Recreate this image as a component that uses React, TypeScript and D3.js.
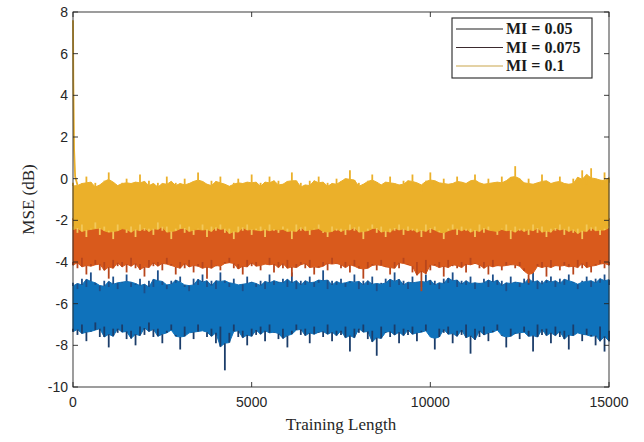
import React from 'react';
import * as d3 from 'd3';

// sample positions along the training run
const trainingX = d3.range(0, 15001, 125);

// MI = 0.1 (yellow) envelope
const yellowUpper = [
  -0.2,-0.5,-0.3,0.1,-0.4,-0.2,-0.6,-0.1,0.3,-0.3,
  -0.5,-0.2,0.0,-0.4,-0.3,0.2,-0.5,-0.1,-0.4,-0.2,
  -0.6,0.1,-0.3,-0.2,-0.5,0.0,-0.4,-0.3,0.3,-0.2,
  -0.5,-0.1,-0.4,0.1,-0.3,-0.6,-0.2,0.0,-0.4,-0.3,
  0.2,-0.5,-0.2,-0.4,0.1,-0.3,-0.1,-0.5,-0.2,0.3,
  -0.4,-0.2,-0.6,-0.1,-0.3,0.1,-0.4,-0.2,-0.5,0.0,
  -0.3,-0.1,0.4,-0.4,-0.2,-0.5,-0.1,0.2,-0.3,-0.4,
  -0.2,0.1,-0.5,-0.3,-0.1,-0.4,0.2,-0.2,-0.6,-0.1,
  0.3,-0.4,-0.2,0.0,-0.5,-0.3,0.1,-0.2,-0.4,-0.1,
  0.2,-0.3,-0.5,0.0,-0.2,-0.4,0.1,-0.3,-0.1,0.6,
  -0.2,-0.4,0.0,-0.3,-0.5,0.2,-0.1,-0.4,-0.2,0.1,
  -0.3,-0.5,0.0,-0.2,0.4,-0.3,0.5,-0.1,-0.4,0.3,
  -0.2
];
const yellowLower = [
  -2.3,-2.6,-2.2,-2.8,-2.4,-2.1,-2.7,-2.3,-2.5,-2.9,
  -2.2,-2.4,-2.6,-2.3,-2.8,-2.2,-2.5,-2.4,-2.7,-2.1,
  -2.5,-2.3,-2.9,-2.4,-2.2,-2.6,-2.3,-2.7,-2.4,-2.2,
  -2.8,-2.3,-2.5,-2.2,-2.6,-2.4,-2.9,-2.3,-2.5,-2.2,
  -2.7,-2.4,-2.3,-2.8,-2.2,-2.5,-2.6,-2.3,-2.4,-2.9,
  -2.2,-2.5,-2.3,-2.7,-2.4,-2.2,-2.6,-2.8,-2.3,-2.5,
  -2.4,-2.7,-2.2,-2.5,-2.3,-2.9,-2.4,-2.2,-2.6,-2.3,
  -2.8,-2.4,-2.5,-2.2,-2.7,-2.3,-2.5,-2.4,-2.8,-2.2,
  -2.6,-2.3,-2.5,-2.9,-2.4,-2.2,-2.7,-2.3,-2.5,-2.4,
  -2.8,-2.2,-2.6,-2.3,-2.5,-2.7,-2.4,-2.2,-2.9,-2.3,
  -2.5,-2.4,-2.7,-2.2,-2.6,-2.3,-2.8,-2.4,-2.5,-2.2,
  -2.7,-2.3,-2.6,-2.4,-2.9,-2.2,-2.5,-2.3,-2.7,-2.4,
  -2.3
];

// MI = 0.075 (orange) envelope
const orangeUpper = [
  -1.9,-2.1,-1.8,-2.0,-1.7,-2.2,-1.9,-2.0,-1.6,-2.1,
  -1.8,-2.0,-2.2,-1.9,-1.7,-2.1,-2.0,-1.8,-2.2,-1.9,
  -2.0,-1.7,-2.1,-1.9,-1.8,-2.2,-2.0,-1.6,-1.9,-2.1,
  -1.8,-2.0,-1.9,-2.2,-1.7,-2.0,-2.1,-1.8,-1.9,-2.0,
  -2.2,-1.8,-2.0,-1.9,-1.7,-2.1,-1.8,-2.0,-2.2,-1.9,
  -1.7,-2.0,-2.1,-1.8,-1.9,-2.2,-1.6,-2.0,-1.9,-2.1,
  -1.8,-2.0,-1.9,-2.2,-1.7,-2.1,-1.9,-1.8,-2.0,-2.1,
  -1.9,-1.7,-2.2,-2.0,-1.8,-1.9,-2.1,-1.7,-2.0,-1.9,
  -2.2,-1.8,-2.0,-1.9,-2.1,-1.7,-1.9,-2.2,-1.8,-2.0,
  -1.9,-2.1,-1.6,-2.0,-1.8,-2.2,-1.9,-2.0,-1.7,-2.1,
  -1.9,-1.8,-2.0,-2.2,-1.7,-1.9,-2.1,-1.8,-2.0,-1.9,
  -2.2,-1.7,-2.0,-1.9,-2.1,-1.8,-2.0,-1.6,-1.9,-2.1,
  -1.9
];
const orangeLower = [
  -4.0,-4.3,-3.8,-4.6,-4.1,-3.9,-4.4,-4.0,-4.8,-3.9,
  -4.2,-4.0,-4.5,-3.8,-4.3,-4.1,-4.7,-3.9,-4.2,-4.0,
  -4.4,-3.8,-4.1,-4.6,-4.0,-4.3,-3.9,-4.5,-4.1,-4.0,
  -4.8,-3.9,-4.2,-4.4,-4.0,-3.8,-4.3,-4.1,-4.6,-3.9,
  -4.2,-4.0,-4.4,-4.1,-3.8,-4.5,-4.0,-4.3,-3.9,-4.7,
  -4.1,-4.0,-4.3,-3.9,-4.6,-4.2,-4.0,-4.4,-3.8,-4.1,
  -4.3,-4.0,-4.5,-3.9,-4.2,-4.8,-4.0,-4.1,-4.4,-3.9,
  -4.2,-4.6,-4.0,-4.3,-3.8,-4.1,-4.5,-4.0,-5.4,-3.9,
  -4.4,-4.1,-4.0,-4.7,-3.9,-4.2,-4.3,-4.0,-4.5,-3.8,
  -4.1,-4.3,-4.0,-4.6,-3.9,-4.2,-4.4,-4.0,-4.1,-4.3,
  -4.0,-4.3,-5.0,-4.5,-4.1,-4.0,-4.7,-3.9,-4.2,-4.4,
  -4.0,-4.1,-4.6,-3.9,-4.3,-4.0,-4.5,-4.1,-3.9,-4.3,
  -4.0
];

// MI = 0.05 (blue) envelope
const blueUpper = [
  -5.0,-5.3,-4.8,-5.2,-4.5,-5.1,-5.4,-4.9,-5.2,-4.7,
  -5.3,-5.0,-4.6,-5.2,-5.1,-4.8,-5.5,-4.9,-5.2,-4.4,
  -5.1,-5.3,-4.9,-5.0,-4.7,-5.2,-5.4,-4.8,-5.1,-4.6,
  -5.2,-4.9,-5.3,-4.5,-5.0,-5.2,-4.8,-5.1,-5.4,-4.7,
  -5.0,-5.2,-4.9,-5.3,-4.6,-5.1,-5.0,-4.8,-5.2,-4.5,
  -5.3,-4.9,-5.1,-4.7,-5.2,-5.0,-4.4,-5.3,-4.9,-5.1,
  -4.8,-5.2,-5.0,-4.6,-5.3,-4.9,-5.1,-4.7,-5.4,-5.0,
  -4.8,-5.2,-4.5,-5.1,-4.9,-5.3,-4.7,-5.0,-5.2,-4.6,
  -5.1,-4.9,-5.3,-4.8,-5.0,-4.5,-5.2,-4.9,-5.1,-4.7,
  -5.3,-5.0,-4.8,-5.2,-4.6,-5.1,-4.9,-5.4,-4.7,-5.0,
  -5.2,-4.8,-5.1,-4.5,-5.3,-4.9,-5.0,-4.7,-5.2,-4.8,
  -5.1,-4.6,-5.0,-5.3,-4.9,-4.7,-5.2,-4.8,-5.0,-4.6,
  -5.1
];
const blueLower = [
  -7.2,-7.5,-7.0,-7.8,-7.3,-6.9,-7.6,-7.1,-8.1,-7.2,
  -7.4,-7.0,-7.7,-7.3,-8.0,-7.1,-7.5,-6.9,-7.6,-7.2,
  -7.9,-7.3,-7.0,-7.5,-8.2,-7.1,-7.4,-7.7,-7.0,-7.3,
  -7.6,-7.2,-7.9,-7.1,-9.2,-7.4,-7.0,-7.6,-7.3,-8.0,
  -7.2,-7.5,-7.1,-7.8,-7.0,-7.4,-7.7,-7.2,-8.1,-7.3,
  -7.0,-7.5,-7.2,-7.9,-7.1,-7.4,-7.6,-7.0,-7.8,-7.3,
  -7.5,-7.1,-8.3,-7.2,-7.4,-7.0,-7.7,-7.3,-8.5,-7.1,
  -7.4,-7.6,-7.0,-7.9,-7.2,-7.5,-7.1,-7.8,-7.3,-7.0,
  -7.6,-8.2,-7.2,-7.4,-7.1,-7.9,-7.3,-7.5,-7.0,-8.4,
  -7.2,-7.6,-7.1,-7.8,-7.3,-7.0,-7.5,-8.1,-7.2,-7.4,
  -7.7,-7.1,-7.3,-8.3,-7.0,-7.5,-7.2,-7.9,-7.1,-7.6,
  -7.3,-8.2,-7.0,-7.4,-7.8,-7.2,-7.5,-8.0,-7.1,-8.3,
  -7.3
];

// start-up transient of the fastest series
const startX = [0, 10, 30, 60, 125];
const startY = [7.6, 4.6, 1.4, 0.1, -0.3];

const xTicks = [0, 5000, 10000, 15000];
const yTicks = [-10, -8, -6, -4, -2, 0, 2, 4, 6, 8];
const legendLabels = ['MI = 0.05', 'MI = 0.075', 'MI = 0.1'];
const legendColors = ['#202020', '#3b2a2e', '#c9a64c'];

const W = 644, H = 442;
const margin = { top: 12, right: 35, bottom: 55, left: 73 };

// solid part of a band: each sample averaged with its neighbours
function smooth(vals: number[]) {
  return vals.map((_, i) => d3.mean(vals.slice(Math.max(0, i - 1), i + 2)) as number);
}

export default function App() {
  const x = d3.scaleLinear().domain([0, 15000]).range([margin.left, W - margin.right]);
  const y = d3.scaleLinear().domain([-10, 8]).range([H - margin.bottom, margin.top]);
  const [x0, x1] = x.range();
  const [yb, yt] = y.range();

  const series = [
    { up: blueUpper, lo: blueLower, fill: '#0f72bb', tipUp: '#1d4f8a', tipLo: '#1b3d6a' },
    { up: orangeUpper, lo: orangeLower, fill: '#d95a1c', tipUp: '#d95a1c', tipLo: '#b8461c' },
    { up: yellowUpper, lo: yellowLower, fill: '#ebb02a', tipUp: '#ebb02a', tipLo: '#f2c85a' },
  ];

  const startLine = d3.line<number>().x((d) => x(d)).y((_, i) => y(startY[i]))(startX) || '';

  const axisColor = '#262626';
  const tick = 5;

  return (
    <svg width={W} height={H} style={{ position: 'absolute', left: 0, top: 0, background: '#fff' }}>
      <rect x={0} y={0} width={W} height={H} fill="#fff" />
      <g>
        {series.map((s, k) => {
          const cu = smooth(s.up);
          const cl = smooth(s.lo);
          const core = d3.area<number>()
            .x((d) => x(d))
            .y0((_, i) => y(cl[i]))
            .y1((_, i) => y(cu[i]))(trainingX) || '';
          return (
            <g key={k}>
              <path d={core} fill={s.fill} stroke={s.fill} strokeWidth={1} />
              {trainingX.map((d, i) => (
                <g key={i}>
                  <line x1={x(d)} x2={x(d)} y1={y(cu[i])} y2={y(s.up[i])} stroke={s.tipUp} strokeWidth={1.8} />
                  <line x1={x(d)} x2={x(d)} y1={y(cl[i])} y2={y(s.lo[i])} stroke={s.tipLo} strokeWidth={1.8} />
                </g>
              ))}
            </g>
          );
        })}
        <path d={startLine} fill="none" stroke="#ebb02a" strokeWidth={1.8} />
      </g>

      {/* box */}
      <rect x={x0} y={yt} width={x1 - x0} height={yb - yt} fill="none" stroke={axisColor} strokeWidth={0.9} />

      {/* ticks and labels */}
      {xTicks.map((t) => (
        <g key={'x' + t}>
          <line x1={x(t)} x2={x(t)} y1={yb} y2={yb - tick} stroke={axisColor} strokeWidth={0.9} />
          <line x1={x(t)} x2={x(t)} y1={yt} y2={yt + tick} stroke={axisColor} strokeWidth={0.9} />
          <text x={x(t)} y={yb + 20} textAnchor="middle" fontFamily="Liberation Sans, Arial, sans-serif" fontSize={14} fill="#262626">
            {t}
          </text>
        </g>
      ))}
      {yTicks.map((t) => (
        <g key={'y' + t}>
          <line x1={x0} x2={x0 + tick} y1={y(t)} y2={y(t)} stroke={axisColor} strokeWidth={0.9} />
          <line x1={x1} x2={x1 - tick} y1={y(t)} y2={y(t)} stroke={axisColor} strokeWidth={0.9} />
          <text x={x0 - 5} y={y(t) + 5} textAnchor="end" fontFamily="Liberation Sans, Arial, sans-serif" fontSize={14} fill="#262626">
            {t}
          </text>
        </g>
      ))}

      <text x={(x0 + x1) / 2} y={H - 12} textAnchor="middle" fontFamily="Liberation Serif, serif" fontSize={17} fill="#262626">
        Training Length
      </text>
      <text
        transform={`translate(34,${(yt + yb) / 2}) rotate(-90)`}
        textAnchor="middle"
        fontFamily="Liberation Serif, serif"
        fontSize={17}
        fill="#262626"
      >
        MSE (dB)
      </text>

      {/* legend */}
      <g>
        <rect x={452} y={18} width={140} height={60} fill="#fff" stroke={axisColor} strokeWidth={1.1} />
        {legendLabels.map((l, i) => (
          <g key={l}>
            <line x1={456} x2={503} y1={29 + i * 18.5} y2={29 + i * 18.5} stroke={legendColors[i]} strokeWidth={1.1} />
            <text x={506} y={34 + i * 18.5} fontFamily="Liberation Serif, serif" fontWeight="bold" fontSize={16} fill="#1a1a1a">
              {l}
            </text>
          </g>
        ))}
      </g>
    </svg>
  );
}
